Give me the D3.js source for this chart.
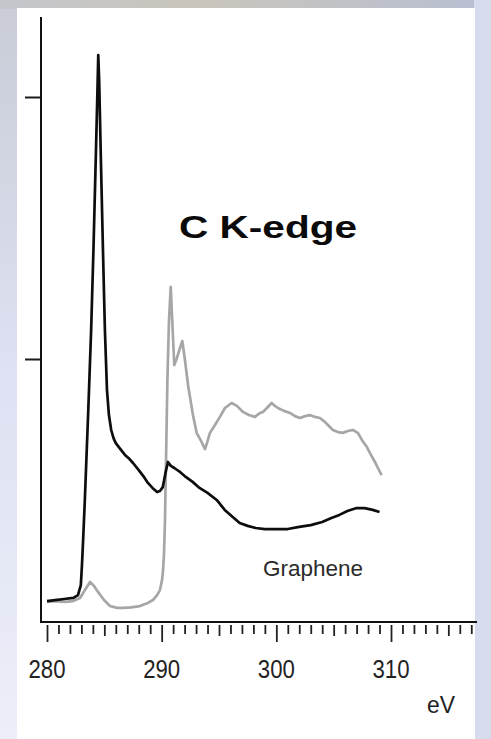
<!DOCTYPE html>
<html><head><meta charset="utf-8">
<script src="https://cdn.jsdelivr.net/npm/d3@7"></script>
<style>html,body{margin:0;padding:0;background:#fff;}svg{display:block;}</style>
</head><body>
<svg id="chart" width="491" height="739"></svg>
<script>
// ---- data ----
const blackEV = [280.0,280.7,281.5,282.3,282.7,282.95,283.05,283.15,283.3,283.6,283.85,284.05,284.25,284.4,284.47,284.55,284.7,284.88,285.05,285.23,285.4,285.6,285.8,286.0,286.4,286.8,287.2,287.5,288.0,288.4,288.8,289.2,289.6,289.85,290.1,290.35,290.55,290.8,291.1,291.6,292.1,292.7,293.3,294.0,294.8,295.5,296.2,296.8,297.5,298.2,299.0,300.0,301.0,302.0,303.0,304.0,304.8,305.5,306.2,307.0,307.7,308.4,309.0];
const blackI = [0.076,0.080,0.084,0.088,0.099,0.137,0.214,0.309,0.462,0.805,1.111,1.416,1.760,2.027,2.160,2.065,1.760,1.416,1.111,0.882,0.786,0.729,0.698,0.679,0.656,0.634,0.618,0.603,0.576,0.553,0.527,0.508,0.492,0.496,0.511,0.569,0.607,0.592,0.584,0.569,0.550,0.531,0.508,0.489,0.462,0.424,0.397,0.374,0.363,0.355,0.351,0.351,0.351,0.359,0.366,0.378,0.393,0.405,0.420,0.431,0.431,0.424,0.416];
const grayEV = [280.0,280.7,281.57,282.27,282.88,283.31,283.75,284.1,284.45,284.97,285.49,286.1,286.63,287.32,288.1,288.8,289.24,289.6,289.85,290.03,290.11,290.2,290.29,290.38,290.5,290.64,290.79,290.9,291.1,291.33,291.6,291.8,292.03,292.3,292.47,292.73,293.05,293.49,293.78,293.95,294.21,294.65,295.08,295.52,296.1,296.56,297.09,297.61,298.13,298.57,298.83,299.18,299.59,299.88,300.14,300.66,301.19,301.62,302.06,302.5,302.93,303.37,303.8,304.23,304.5,304.93,305.37,305.8,306.24,306.68,307.11,307.46,307.9,308.25,308.6,308.86,309.18];
const grayI = [0.073,0.076,0.073,0.076,0.088,0.118,0.149,0.134,0.111,0.080,0.057,0.050,0.050,0.052,0.057,0.069,0.080,0.099,0.118,0.156,0.187,0.252,0.385,0.615,0.920,1.149,1.275,1.168,0.977,1.004,1.042,1.069,0.996,0.901,0.855,0.786,0.718,0.683,0.656,0.679,0.718,0.748,0.779,0.813,0.832,0.821,0.798,0.786,0.779,0.794,0.798,0.813,0.832,0.821,0.813,0.802,0.794,0.782,0.775,0.782,0.786,0.779,0.775,0.760,0.748,0.729,0.721,0.718,0.725,0.729,0.718,0.691,0.664,0.634,0.607,0.584,0.557];
const xTickValues = d3.range(280, 318, 1);
const xTickLabels = ["280","290","300","310"];
const yTickValues = [1, 2];
const titleText = "C K-edge";
const sampleLabel = "Graphene";
const unitLabel = "eV";

// ---- layout ----
const svg = d3.select("#chart");
const W = 491, H = 739;

// slide-like background
const defs = svg.append("defs");
const gTop = defs.append("linearGradient").attr("id","gtop").attr("x1","0").attr("x2","1").attr("y1","0").attr("y2","0");
gTop.append("stop").attr("offset","0").attr("stop-color","#c4c6cc");
gTop.append("stop").attr("offset","0.4").attr("stop-color","#c9c5bb");
gTop.append("stop").attr("offset","1").attr("stop-color","#b8bfd2");
const gLeft = defs.append("linearGradient").attr("id","gleft").attr("x1","0").attr("x2","0").attr("y1","0").attr("y2","1");
gLeft.append("stop").attr("offset","0").attr("stop-color","#c9ccd6");
gLeft.append("stop").attr("offset","0.5").attr("stop-color","#dde1f2");
gLeft.append("stop").attr("offset","1").attr("stop-color","#eceef8");
svg.append("rect").attr("width",W).attr("height",H).attr("fill","url(#gleft)");
svg.append("rect").attr("width",W).attr("height",9).attr("fill","url(#gtop)");
svg.append("rect").attr("x",474).attr("width",17).attr("height",H).attr("fill","#d6dbee");
svg.append("rect").attr("x",17).attr("y",8).attr("width",458).attr("height",H-8).attr("fill","#ffffff");

const x = d3.scaleLinear().domain([280, 310]).range([47, 391]);
const y = d3.scaleLinear().domain([0, 2.3]).range([621, 18.4]);

const line = d3.line().x(d => x(d[0])).y(d => y(d[1])).curve(d3.curveLinear);

const grayData = grayEV.map((e,i)=>[e, grayI[i]]);
const blackData = blackEV.map((e,i)=>[e, blackI[i]]);

svg.append("path").datum(grayData).attr("d", line)
  .attr("fill","none").attr("stroke","#a6a6a6").attr("stroke-width",2.7).attr("stroke-linejoin","round");
svg.append("path").datum(blackData).attr("d", line)
  .attr("fill","none").attr("stroke","#0d0d0d").attr("stroke-width",2.7).attr("stroke-linejoin","round");

// y axis
const yAxis = d3.axisLeft(y).tickValues(yTickValues).tickSize(16).tickFormat("");
const gy = svg.append("g").attr("transform","translate(41,0)").call(yAxis);
gy.select(".domain").remove();
gy.selectAll(".tick line").attr("stroke","#1a1a1a").attr("stroke-width",2);
svg.append("line").attr("x1",41).attr("x2",41).attr("y1",17).attr("y2",623)
  .attr("stroke","#111").attr("stroke-width",2);

// x axis
svg.append("line").attr("x1",40).attr("x2",477).attr("y1",622).attr("y2",622)
  .attr("stroke","#111").attr("stroke-width",2);
const xAxis = d3.axisBottom(x).tickValues(xTickValues).tickSize(0).tickFormat("");
const gx = svg.append("g").attr("transform","translate(0,625)").call(xAxis);
gx.select(".domain").remove();
gx.selectAll(".tick line")
  .attr("y1",0)
  .attr("y2", d => d % 10 === 0 ? 17 : (d % 5 === 0 ? 11 : 9))
  .attr("stroke","#222").attr("stroke-width",1.8);

// tick labels
svg.append("g").selectAll("text").data(xTickLabels).join("text")
  .attr("x", d => x(+d)).attr("y", 678)
  .attr("text-anchor","middle")
  .attr("font-family","'Liberation Sans', Arial, sans-serif")
  .attr("font-size",25).attr("fill","#222")
  .attr("textLength",37).attr("lengthAdjust","spacingAndGlyphs")
  .text(d => d);

svg.append("text").attr("x",441).attr("y",713).attr("text-anchor","middle")
  .attr("font-family","'Liberation Sans', Arial, sans-serif")
  .attr("font-size",24).attr("fill","#222")
  .attr("textLength",28).attr("lengthAdjust","spacingAndGlyphs").text(unitLabel);

svg.append("text").attr("x",313).attr("y",576).attr("text-anchor","middle")
  .attr("font-family","'Liberation Sans', Arial, sans-serif")
  .attr("font-size",22).attr("fill","#2a2a2a")
  .attr("textLength",100).attr("lengthAdjust","spacingAndGlyphs").text(sampleLabel);

svg.append("text").attr("x",179).attr("y",238)
  .attr("font-family","'Liberation Sans', Arial, sans-serif")
  .attr("font-weight","bold")
  .attr("font-size",32).attr("fill","#0a0a0a")
  .attr("textLength",178).attr("lengthAdjust","spacingAndGlyphs").text(titleText);
</script>
</body></html>
